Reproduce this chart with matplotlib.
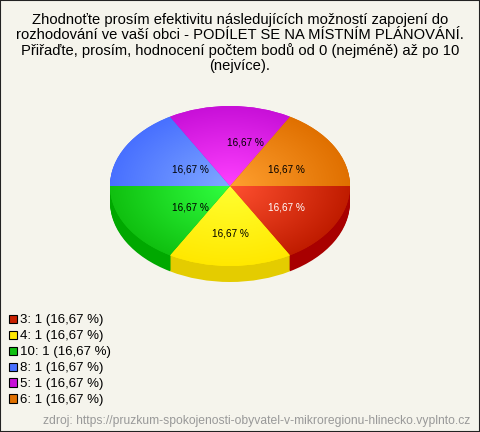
import numpy as np
import matplotlib
matplotlib.use('Agg')
import matplotlib.pyplot as plt
from matplotlib.colors import LinearSegmentedColormap
from matplotlib.patches import Patch, Rectangle

plt.rcParams['font.family'] = ['Liberation Sans', 'DejaVu Sans']

title = ('Zhodnoťte prosím efektivitu následujících možností zapojení do\n'
         'rozhodování ve vaší obci - PODÍLET SE NA MÍSTNÍM PLÁNOVÁNÍ.\n'
         'Přiřaďte, prosím, hodnocení počtem bodů od 0 (nejméně) až po 10\n'
         '(nejvíce).')
source = 'zdroj: https://pruzkum-spokojenosti-obyvatel-v-mikroregionu-hlinecko.vyplnto.cz'

categories = ['3', '4', '10', '8', '5', '6']
values = [1, 1, 1, 1, 1, 1]
percents = ['16,67 %'] * 6
label_colors = ['white', 'black', 'black', 'black', 'black', 'black']

inner_colors = ['#FF5030', '#FFFF30', '#30FF40', '#80A8FF', '#FF40FF', '#FFA030']
outer_colors = ['#C01C00', '#FFE800', '#10C010', '#4870FF', '#C810D8', '#E07000']
side_colors = ['#A80000', '#E4CC00', '#00A800', '#2850D0', '#A000B0', '#B05000']
legend_colors = ['#C82000', '#FFE800', '#10C010', '#4870FF', '#C810D8', '#E07000']

BG = '#F5F4EC'
W, H = 480, 432
DEPTH = 16  # px

fig = plt.figure(figsize=(W / 100, H / 100), dpi=100, facecolor=BG)
ax = fig.add_axes([110 / W, 1 - 266 / H - DEPTH / H, 240 / W, (160 + DEPTH) / H])
ax.axis('off')

# side of the pie: stacked copies, shifted down
ry = 80.0
for d in range(DEPTH, 0, -1):
    ax.pie(values, colors=side_colors, startangle=0, counterclock=False,
           radius=1, center=(0, -d / ry))

wedges, _ = ax.pie(values, colors=outer_colors, startangle=0, counterclock=False,
                   radius=1, center=(0, 0))

ax.set_aspect('auto')

# radial gradient on each slice
yy, xx = np.mgrid[-1:1:400j, -1:1:400j]
rr = np.sqrt(xx ** 2 + yy ** 2)
for w, c0, c1 in zip(wedges, inner_colors, outer_colors):
    cmap = LinearSegmentedColormap.from_list('g', [c0, c1])
    im = ax.imshow(rr, extent=(-1, 1, -1, 1), origin='lower', cmap=cmap,
                   vmin=0, vmax=1, aspect='auto', zorder=3)
    im.set_clip_path(w)
ax.set_xlim(-1, 1)
ax.set_ylim(-1 - DEPTH / ry, 1)

# percent labels, the original places them a bit off the slice middle
label_x = [0.47, 0.0, -0.33, -0.33, 0.13, 0.47]
label_y = [-0.27, -0.59, -0.27, 0.2, 0.54, 0.2]
for x, y, txt, col in zip(label_x, label_y, percents, label_colors):
    ax.text(x, y, txt, color=col, fontsize=7.2, ha='center', va='center', zorder=5)

fig.text(240 / W, 1 - 13 / H, title, ha='center', va='top', fontsize=10.6,
         linespacing=1.1, color='black')

handles = [Patch(facecolor=c, edgecolor='black', linewidth=0.8) for c in legend_colors]
labels = [f'{c}: {v} ({p[:-2]} %)' for c, v, p in zip(categories, values, percents)]
fig.legend(handles, labels, loc='upper left', bbox_to_anchor=(9 / W, 1 - 314.5 / H),
           frameon=False, fontsize=9.5, labelspacing=0.3, handlelength=0.6,
           handleheight=0.6, handletextpad=0.23, borderpad=0, borderaxespad=0)

fig.text(470 / W, 1 - 421 / H, source, ha='right', va='center', fontsize=8.75, color='#999999')

fig.add_artist(Rectangle((0, 0), 1, 1, transform=fig.transFigure, fill=False,
                         edgecolor='#222222', linewidth=1.5))

fig.savefig('out.png', dpi=100, facecolor=BG)
